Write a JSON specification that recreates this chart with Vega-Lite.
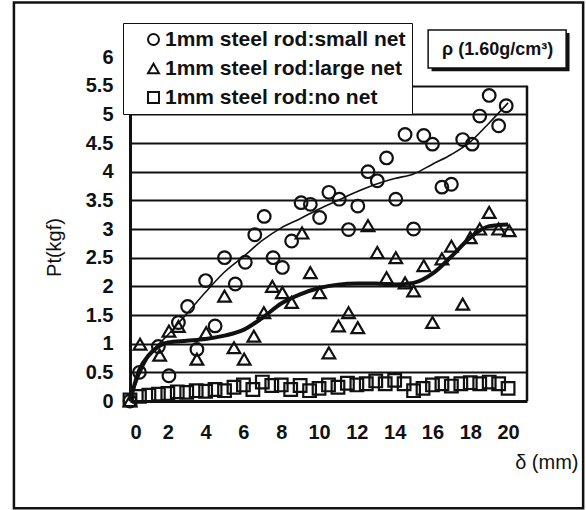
{
  "$schema": "https://vega.github.io/schema/vega-lite/v6.json",
  "width": 397,
  "height": 344,
  "autosize": {"type": "none"},
  "padding": {"left": 130, "top": 57, "right": 59, "bottom": 109},
  "background": "white",
  "data": {"values": [{}]},
  "config": {
    "view": {"stroke": null},
    "font": "Liberation Sans",
    "axis": {"labelFont": "Liberation Sans", "labelFontWeight": "bold", "labelColor": "#111", "titleColor": "#111", "labelOverlap": false}
  },
  "datasets": {
    "pts": [
      {"series": "1mm steel rod:small net", "x": 0, "y": 0},
      {"series": "1mm steel rod:small net", "x": 0.5, "y": 0.5},
      {"series": "1mm steel rod:small net", "x": 1.5, "y": 0.95},
      {"series": "1mm steel rod:small net", "x": 2.06, "y": 0.44},
      {"series": "1mm steel rod:small net", "x": 2.56, "y": 1.37},
      {"series": "1mm steel rod:small net", "x": 3.05, "y": 1.65},
      {"series": "1mm steel rod:small net", "x": 3.54, "y": 0.9},
      {"series": "1mm steel rod:small net", "x": 4.0, "y": 2.1},
      {"series": "1mm steel rod:small net", "x": 4.5, "y": 1.31},
      {"series": "1mm steel rod:small net", "x": 5.0, "y": 2.5},
      {"series": "1mm steel rod:small net", "x": 5.57, "y": 2.04},
      {"series": "1mm steel rod:small net", "x": 6.1, "y": 2.42},
      {"series": "1mm steel rod:small net", "x": 6.6, "y": 2.9},
      {"series": "1mm steel rod:small net", "x": 7.1, "y": 3.22},
      {"series": "1mm steel rod:small net", "x": 7.57, "y": 2.5},
      {"series": "1mm steel rod:small net", "x": 8.06, "y": 2.33},
      {"series": "1mm steel rod:small net", "x": 8.55, "y": 2.79},
      {"series": "1mm steel rod:small net", "x": 9.05, "y": 3.46},
      {"series": "1mm steel rod:small net", "x": 9.54, "y": 3.43},
      {"series": "1mm steel rod:small net", "x": 10.03, "y": 3.2},
      {"series": "1mm steel rod:small net", "x": 10.52, "y": 3.64},
      {"series": "1mm steel rod:small net", "x": 11.07, "y": 3.52},
      {"series": "1mm steel rod:small net", "x": 11.56, "y": 2.99},
      {"series": "1mm steel rod:small net", "x": 12.05, "y": 3.4},
      {"series": "1mm steel rod:small net", "x": 12.59, "y": 4.0},
      {"series": "1mm steel rod:small net", "x": 13.08, "y": 3.84},
      {"series": "1mm steel rod:small net", "x": 13.57, "y": 4.24},
      {"series": "1mm steel rod:small net", "x": 14.06, "y": 3.52},
      {"series": "1mm steel rod:small net", "x": 14.55, "y": 4.65},
      {"series": "1mm steel rod:small net", "x": 15.0, "y": 3.0},
      {"series": "1mm steel rod:small net", "x": 15.54, "y": 4.63},
      {"series": "1mm steel rod:small net", "x": 16.0, "y": 4.48},
      {"series": "1mm steel rod:small net", "x": 16.5, "y": 3.73},
      {"series": "1mm steel rod:small net", "x": 17.0, "y": 3.78},
      {"series": "1mm steel rod:small net", "x": 17.6, "y": 4.56},
      {"series": "1mm steel rod:small net", "x": 18.1, "y": 4.48},
      {"series": "1mm steel rod:small net", "x": 18.5, "y": 4.97},
      {"series": "1mm steel rod:small net", "x": 19.0, "y": 5.33},
      {"series": "1mm steel rod:small net", "x": 19.5, "y": 4.8},
      {"series": "1mm steel rod:small net", "x": 19.9, "y": 5.15},
      {"series": "1mm steel rod:large net", "x": 0, "y": 0},
      {"series": "1mm steel rod:large net", "x": 0.53, "y": 0.99},
      {"series": "1mm steel rod:large net", "x": 1.57, "y": 0.8},
      {"series": "1mm steel rod:large net", "x": 2.06, "y": 1.22},
      {"series": "1mm steel rod:large net", "x": 2.56, "y": 1.3},
      {"series": "1mm steel rod:large net", "x": 3.54, "y": 0.73},
      {"series": "1mm steel rod:large net", "x": 4.03, "y": 1.19},
      {"series": "1mm steel rod:large net", "x": 5.0, "y": 1.83},
      {"series": "1mm steel rod:large net", "x": 5.5, "y": 0.93},
      {"series": "1mm steel rod:large net", "x": 6.04, "y": 0.73},
      {"series": "1mm steel rod:large net", "x": 6.55, "y": 1.13},
      {"series": "1mm steel rod:large net", "x": 7.08, "y": 1.54},
      {"series": "1mm steel rod:large net", "x": 7.53, "y": 2.0},
      {"series": "1mm steel rod:large net", "x": 8.06, "y": 1.89},
      {"series": "1mm steel rod:large net", "x": 8.55, "y": 1.72},
      {"series": "1mm steel rod:large net", "x": 9.1, "y": 2.93},
      {"series": "1mm steel rod:large net", "x": 9.54, "y": 2.24},
      {"series": "1mm steel rod:large net", "x": 10.03, "y": 1.89},
      {"series": "1mm steel rod:large net", "x": 10.52, "y": 0.84},
      {"series": "1mm steel rod:large net", "x": 11.03, "y": 1.31},
      {"series": "1mm steel rod:large net", "x": 11.56, "y": 1.54},
      {"series": "1mm steel rod:large net", "x": 12.05, "y": 1.28},
      {"series": "1mm steel rod:large net", "x": 12.59, "y": 3.06},
      {"series": "1mm steel rod:large net", "x": 13.08, "y": 2.59},
      {"series": "1mm steel rod:large net", "x": 13.57, "y": 2.15},
      {"series": "1mm steel rod:large net", "x": 14.06, "y": 2.5},
      {"series": "1mm steel rod:large net", "x": 14.55, "y": 2.06},
      {"series": "1mm steel rod:large net", "x": 15.0, "y": 1.92},
      {"series": "1mm steel rod:large net", "x": 15.54, "y": 2.36},
      {"series": "1mm steel rod:large net", "x": 16.0, "y": 1.37},
      {"series": "1mm steel rod:large net", "x": 16.5, "y": 2.48},
      {"series": "1mm steel rod:large net", "x": 17.0, "y": 2.7},
      {"series": "1mm steel rod:large net", "x": 17.6, "y": 1.69},
      {"series": "1mm steel rod:large net", "x": 18.0, "y": 2.85},
      {"series": "1mm steel rod:large net", "x": 18.5, "y": 3.0},
      {"series": "1mm steel rod:large net", "x": 19.0, "y": 3.29},
      {"series": "1mm steel rod:large net", "x": 19.5, "y": 3.0},
      {"series": "1mm steel rod:large net", "x": 20.06, "y": 2.97},
      {"series": "1mm steel rod:no net", "x": 0, "y": 0.02},
      {"series": "1mm steel rod:no net", "x": 0.5, "y": 0.08},
      {"series": "1mm steel rod:no net", "x": 1, "y": 0.1},
      {"series": "1mm steel rod:no net", "x": 1.5, "y": 0.12},
      {"series": "1mm steel rod:no net", "x": 2, "y": 0.13},
      {"series": "1mm steel rod:no net", "x": 2.5, "y": 0.16},
      {"series": "1mm steel rod:no net", "x": 3, "y": 0.15},
      {"series": "1mm steel rod:no net", "x": 3.5, "y": 0.18},
      {"series": "1mm steel rod:no net", "x": 4, "y": 0.17},
      {"series": "1mm steel rod:no net", "x": 4.5, "y": 0.2},
      {"series": "1mm steel rod:no net", "x": 5, "y": 0.18},
      {"series": "1mm steel rod:no net", "x": 5.5, "y": 0.24},
      {"series": "1mm steel rod:no net", "x": 6, "y": 0.28},
      {"series": "1mm steel rod:no net", "x": 6.5, "y": 0.2},
      {"series": "1mm steel rod:no net", "x": 7, "y": 0.33},
      {"series": "1mm steel rod:no net", "x": 7.5, "y": 0.27},
      {"series": "1mm steel rod:no net", "x": 8, "y": 0.28},
      {"series": "1mm steel rod:no net", "x": 8.5, "y": 0.2},
      {"series": "1mm steel rod:no net", "x": 9, "y": 0.27},
      {"series": "1mm steel rod:no net", "x": 9.5, "y": 0.18},
      {"series": "1mm steel rod:no net", "x": 10, "y": 0.22},
      {"series": "1mm steel rod:no net", "x": 10.5, "y": 0.28},
      {"series": "1mm steel rod:no net", "x": 11, "y": 0.24},
      {"series": "1mm steel rod:no net", "x": 11.5, "y": 0.31},
      {"series": "1mm steel rod:no net", "x": 12, "y": 0.28},
      {"series": "1mm steel rod:no net", "x": 12.5, "y": 0.3},
      {"series": "1mm steel rod:no net", "x": 13, "y": 0.35},
      {"series": "1mm steel rod:no net", "x": 13.5, "y": 0.3},
      {"series": "1mm steel rod:no net", "x": 14, "y": 0.36},
      {"series": "1mm steel rod:no net", "x": 14.5, "y": 0.3},
      {"series": "1mm steel rod:no net", "x": 15, "y": 0.18},
      {"series": "1mm steel rod:no net", "x": 15.5, "y": 0.22},
      {"series": "1mm steel rod:no net", "x": 16, "y": 0.28},
      {"series": "1mm steel rod:no net", "x": 16.5, "y": 0.3},
      {"series": "1mm steel rod:no net", "x": 17, "y": 0.26},
      {"series": "1mm steel rod:no net", "x": 17.5, "y": 0.3},
      {"series": "1mm steel rod:no net", "x": 18, "y": 0.32},
      {"series": "1mm steel rod:no net", "x": 18.5, "y": 0.3},
      {"series": "1mm steel rod:no net", "x": 19, "y": 0.33},
      {"series": "1mm steel rod:no net", "x": 19.5, "y": 0.3},
      {"series": "1mm steel rod:no net", "x": 20, "y": 0.22}
    ],
    "thin": [
      {"x": 0, "y": 0}, {"x": 0.5, "y": 0.45}, {"x": 1, "y": 0.78}, {"x": 2, "y": 1.15},
      {"x": 3, "y": 1.52}, {"x": 4, "y": 1.9}, {"x": 5, "y": 2.25}, {"x": 6, "y": 2.52},
      {"x": 7, "y": 2.8}, {"x": 8, "y": 3.02}, {"x": 9, "y": 3.18}, {"x": 10, "y": 3.35},
      {"x": 11, "y": 3.5}, {"x": 12, "y": 3.65}, {"x": 13, "y": 3.78}, {"x": 14, "y": 3.88},
      {"x": 15, "y": 3.96}, {"x": 16, "y": 4.13}, {"x": 17, "y": 4.3}, {"x": 18, "y": 4.52},
      {"x": 19, "y": 4.85}, {"x": 20, "y": 5.2}
    ],
    "thick": [
      {"x": 0, "y": 0}, {"x": 0.25, "y": 0.3}, {"x": 0.5, "y": 0.55}, {"x": 1, "y": 0.8},
      {"x": 1.5, "y": 0.95}, {"x": 2, "y": 1.02}, {"x": 3, "y": 1.05}, {"x": 4, "y": 1.08},
      {"x": 5, "y": 1.14}, {"x": 6, "y": 1.24}, {"x": 7, "y": 1.45}, {"x": 8, "y": 1.7},
      {"x": 9, "y": 1.86}, {"x": 10, "y": 1.97}, {"x": 11, "y": 2.03}, {"x": 12, "y": 2.05},
      {"x": 13, "y": 2.05}, {"x": 14, "y": 2.03}, {"x": 15, "y": 2.06}, {"x": 16, "y": 2.22},
      {"x": 17, "y": 2.52}, {"x": 18, "y": 2.85}, {"x": 19, "y": 3.05}, {"x": 20, "y": 3.08}
    ]
  },
  "layer": [
    {
      "mark": {"type": "rect", "fill": null, "stroke": "#111", "strokeWidth": 2.5},
      "encoding": {
        "x": {"datum": -6.14, "type": "quantitative", "scale": {"domain": [0, 21], "nice": false},
          "axis": {"values": [0, 2, 4, 6, 8, 10, 12, 14, 16, 18, 20], "tickCount": 40, "format": "d", "grid": false, "ticks": false,
            "domainColor": "#111", "domainWidth": 3, "labelFontSize": 20, "labelPadding": 21,
            "title": "δ (mm)", "titleFont": "Liberation Sans", "titleFontSize": 20, "titleFontWeight": "normal",
            "titleAlign": "right", "titleAnchor": null, "titleX": 448, "titleY": 67, "titleBaseline": "alphabetic"}},
        "x2": {"datum": 23.97},
        "y": {"datum": 6.95, "type": "quantitative", "scale": {"domain": [0, 6], "nice": false},
          "axis": {"values": [0, 0.5, 1, 1.5, 2, 2.5, 3, 3.5, 4, 4.5, 5, 5.5, 6], "tickCount": 40, "labelExpr": "datum.value", "grid": true,
            "gridColor": "#111", "gridWidth": 2,
            "gridOpacity": {"condition": {"test": "datum.value > 5.6 || datum.value < 0.1", "value": 0}, "value": 1},
            "ticks": false, "domainColor": "#111", "domainWidth": 3, "labelFontSize": 20, "labelPadding": 17,
            "title": "Pt(kgf)", "titleFont": "Liberation Sans", "titleFontSize": 20, "titleFontWeight": "normal",
            "titleX": -76, "titleY": 190, "titleAngle": -90, "titleAlign": "center", "titleBaseline": "middle"}},
        "y2": {"datum": -1.87}
      }
    },
    {
      "data": {"name": "thin"},
      "mark": {"type": "line", "color": "#111", "strokeWidth": 1.6, "interpolate": "monotone"},
      "encoding": {
        "x": {"field": "x", "type": "quantitative"},
        "y": {"field": "y", "type": "quantitative"}
      }
    },
    {
      "data": {"name": "thick"},
      "mark": {"type": "line", "color": "#111", "strokeWidth": 4, "interpolate": "monotone"},
      "encoding": {
        "x": {"field": "x", "type": "quantitative"},
        "y": {"field": "y", "type": "quantitative"}
      }
    },
    {
      "mark": {"type": "rule", "color": "#111", "strokeWidth": 2.5},
      "encoding": {
        "x": {"datum": 21, "type": "quantitative"},
        "y": {"datum": 0, "type": "quantitative"},
        "y2": {"datum": 5.5}
      }
    },
    {
      "data": {"name": "pts"},
      "mark": {"type": "point", "filled": false, "stroke": "#111", "strokeWidth": 2.2, "opacity": 1},
      "encoding": {
        "x": {"field": "x", "type": "quantitative"},
        "y": {"field": "y", "type": "quantitative"},
        "shape": {"field": "series", "type": "nominal",
          "scale": {"domain": ["1mm steel rod:small net", "1mm steel rod:large net", "1mm steel rod:no net"],
            "range": ["circle", "triangle-up", "square"]},
          "legend": {"orient": "none", "legendX": -7, "legendY": -34, "title": null,
            "fillColor": "white", "strokeColor": "#111", "padding": 6, "rowPadding": 7,
            "symbolSize": 120, "symbolStrokeWidth": 2, "symbolStrokeColor": "#111", "symbolFillColor": "transparent",
            "symbolOffset": 14, "labelOffset": 1, "labelFontSize": 21, "labelFontWeight": "bold",
            "labelFont": "Liberation Sans", "labelColor": "#111", "labelLimit": 400,
            "labelExpr": "datum.label + '\u00a0\u00a0\u00a0'"}},
        "size": {"value": 160}
      }
    },
    {
      "mark": {"type": "rect", "fill": "#111", "stroke": null},
      "encoding": {
        "x": {"datum": 15.95, "type": "quantitative"},
        "x2": {"datum": 23.25},
        "y": {"datum": 6.42, "type": "quantitative"},
        "y2": {"datum": 5.75}
      }
    },
    {
      "mark": {"type": "rect", "fill": "white", "stroke": "#111", "strokeWidth": 1.5},
      "encoding": {
        "x": {"datum": 15.77, "type": "quantitative"},
        "x2": {"datum": 23.07},
        "y": {"datum": 6.47, "type": "quantitative"},
        "y2": {"datum": 5.81}
      }
    },
    {
      "mark": {"type": "text", "text": "ρ (1.60g/cm³)", "font": "Liberation Sans", "fontSize": 18, "fontWeight": "bold", "color": "#111", "align": "center", "baseline": "middle"},
      "encoding": {
        "x": {"datum": 19.45, "type": "quantitative"},
        "y": {"datum": 6.13, "type": "quantitative"}
      }
    }
  ]
}
